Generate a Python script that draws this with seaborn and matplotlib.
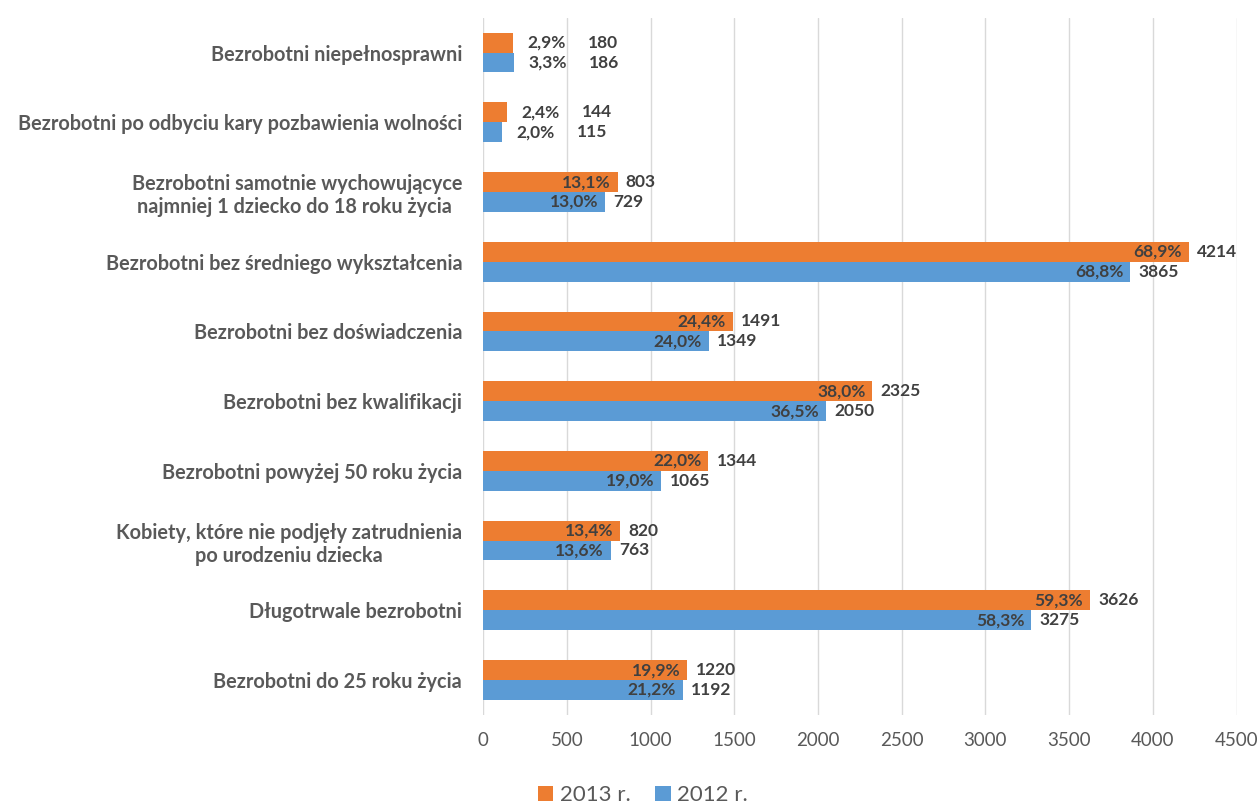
import pandas as pd
import matplotlib.pyplot as plt
import seaborn as sns

# data
categories = [
    'Bezrobotni niepełnosprawni',
    'Bezrobotni po odbyciu kary pozbawienia wolności',
    'Bezrobotni samotnie wychowującyce\nnajmniej 1 dziecko do 18 roku życia ',
    'Bezrobotni bez średniego wykształcenia',
    'Bezrobotni bez doświadczenia',
    'Bezrobotni bez kwalifikacji',
    'Bezrobotni powyżej 50 roku życia',
    'Kobiety, które nie podjęły zatrudnienia\npo urodzeniu dziecka',
    'Długotrwale bezrobotni',
    'Bezrobotni do 25 roku życia',
]
years = ['2013 r.', '2012 r.']
values_2013 = [180, 144, 803, 4214, 1491, 2325, 1344, 820, 3626, 1220]
values_2012 = [186, 115, 729, 3865, 1349, 2050, 1065, 763, 3275, 1192]
pct_2013 = ['2,9%', '2,4%', '13,1%', '68,9%', '24,4%', '38,0%', '22,0%', '13,4%', '59,3%', '19,9%']
pct_2012 = ['3,3%', '2,0%', '13,0%', '68,8%', '24,0%', '36,5%', '19,0%', '13,6%', '58,3%', '21,2%']
x_ticks = [0, 500, 1000, 1500, 2000, 2500, 3000, 3500, 4000, 4500]

df = pd.DataFrame({
    'kategoria': categories * 2,
    'rok': [years[0]] * len(categories) + [years[1]] * len(categories),
    'liczba': values_2013 + values_2012,
})

sns.set_style('white')
plt.rcParams['font.family'] = ['Lato', 'DejaVu Sans']

fig = plt.figure(figsize=(12.58, 8.05), dpi=100)
ax = fig.add_axes([0.384, 0.112, 0.599, 0.866])

sns.barplot(
    data=df, y='kategoria', x='liczba', hue='rok',
    hue_order=years, order=categories,
    palette=['#ED7D31', '#5B9BD5'],
    width=0.57, saturation=1, linewidth=0, ax=ax, legend=True,
)

text_col = '#404040'
lab_fs = 12.5
for cont, vals, pcts in zip(ax.containers, [values_2013, values_2012], [pct_2013, pct_2012]):
    for bar, v, p in zip(cont, vals, pcts):
        yc = bar.get_y() + bar.get_height() / 2
        if v < 300:
            # small bars: percentage doesn't fit inside
            ax.annotate(p, (v, yc), xytext=(10, 0), textcoords='offset points',
                        ha='left', va='center', fontsize=lab_fs, fontweight='bold', color=text_col)
            ax.annotate(str(v), (v, yc), xytext=(54, 0), textcoords='offset points',
                        ha='left', va='center', fontsize=lab_fs, fontweight='bold', color=text_col)
        else:
            ax.annotate(p, (v, yc), xytext=(-5, 0), textcoords='offset points',
                        ha='right', va='center', fontsize=lab_fs, fontweight='bold', color=text_col)
            ax.annotate(str(v), (v, yc), xytext=(6, 0), textcoords='offset points',
                        ha='left', va='center', fontsize=lab_fs, fontweight='bold', color=text_col)

ax.set_xlim(0, 4500)
ax.set_xticks(x_ticks)
ax.set_xticklabels([str(t) for t in x_ticks], fontsize=13.5, color='#595959')
ax.grid(axis='x', color='#D9D9D9', linewidth=1)
ax.set_axisbelow(True)
ax.set_xlabel('')
ax.set_ylabel('')
for s in ax.spines.values():
    s.set_visible(False)
ax.tick_params(axis='y', length=0, pad=15)
ax.tick_params(axis='x', length=0, pad=12)
for lab in ax.get_yticklabels():
    lab.set_fontweight('bold')
    lab.set_fontsize(14.3)
    lab.set_color('#595959')
    lab.set_multialignment('center')

handles, labels = ax.get_legend_handles_labels()
ax.get_legend().remove()
fig.legend(handles, labels, loc='center', bbox_to_anchor=(0.511, 0.012), ncol=2,
           frameon=False, fontsize=16, handlelength=0.7, handleheight=0.7,
           handletextpad=0.3, columnspacing=1.1, labelcolor='#595959')

fig.savefig('out.png', dpi=100)
